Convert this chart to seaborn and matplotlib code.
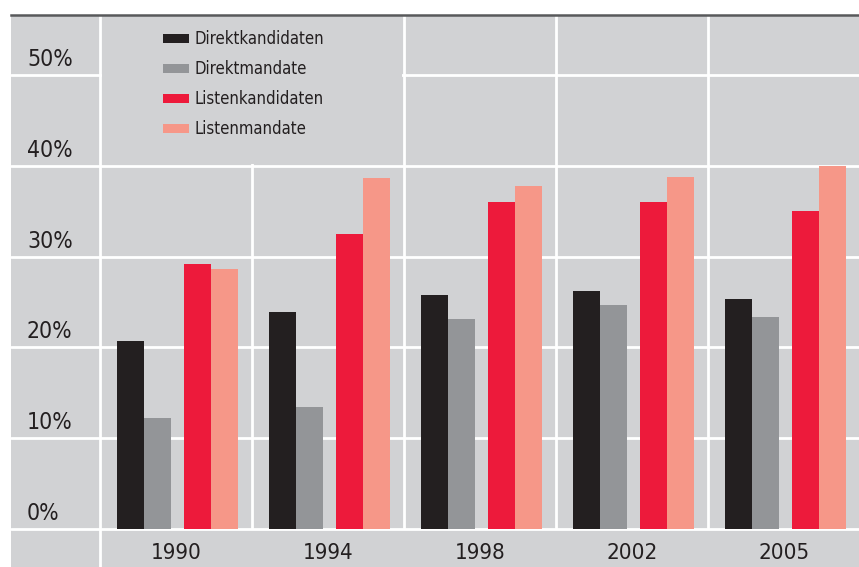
import matplotlib
matplotlib.use("Agg")
import numpy as np
import pandas as pd
import seaborn as sns
import matplotlib.pyplot as plt
from matplotlib.patches import Rectangle, Patch

# Data (percent)
years = ["1990", "1994", "1998", "2002", "2005"]
series = ["Direktkandidaten", "Direktmandate", "Listenkandidaten", "Listenmandate"]
direktkandidaten = [20.7, 23.9, 25.8, 26.2, 25.3]
direktmandate = [12.2, 13.4, 23.1, 24.7, 23.3]
listenkandidaten = [29.2, 32.5, 36.0, 36.0, 35.0]
listenmandate = [28.6, 38.7, 37.8, 38.8, 40.0]
yticks = [0, 10, 20, 30, 40, 50]

values = [direktkandidaten, direktmandate, listenkandidaten, listenmandate]
colors = ["#231F20", "#939598", "#ED1A3B", "#F69788"]
offsets = [-0.301, -0.124, 0.143, 0.320]
bar_w = 0.177

bg = "#D1D2D4"
txt = "#231F20"

sns.set_style("white")
plt.rcParams["font.family"] = ["DejaVu Sans"]
plt.rcParams["font.stretch"] = "condensed"

W, H = 859, 567
fig = plt.figure(figsize=(W / 100, H / 100), dpi=100)
fig.patch.set_facecolor("white")
fig.patches.append(Rectangle((11 / W, 0), 848 / W, 552 / H, transform=fig.transFigure,
                             facecolor=bg, edgecolor="none", zorder=-10))

ax = fig.add_axes([11 / W, 38 / H, 848 / W, 514 / H])
ax.set_facecolor(bg)

for name, vals, col, off in zip(series, values, colors, offsets):
    df = pd.DataFrame({"x": np.arange(len(years)) + off, "y": vals})
    sns.barplot(data=df, x="x", y="y", native_scale=True, width=bar_w,
                color=col, saturation=1, ax=ax, zorder=2, errorbar=None,
                linewidth=0, edgecolor="none")

ax.set_xlim(-0.5 - 89 / 152, -0.5 + 759 / 152)
ax.set_ylim(0, 514 / 9.08)

# white grid
for v in yticks:
    ax.axhline(v, color="white", lw=2, zorder=0.5, clip_on=(v != 0))
for k in range(len(years) - 1):
    ax.axvline(k + 0.5, color="white", lw=2, zorder=0.5)
ax.axvline(-0.5, ymin=-38 / 514, ymax=1, color="white", lw=2, zorder=0.5, clip_on=False)

# legend area hides grid
ax.add_patch(Rectangle((-0.488, 40.25), 1.976, 20, facecolor=bg, edgecolor="none", zorder=1.5))

# y labels above gridlines
for v in yticks:
    ax.text(16 / 848, v + 1.0, f"{v}%", transform=ax.get_yaxis_transform(),
            ha="left", va="baseline", fontsize=16.5, color=txt)
ax.set_yticks([])
ax.set_ylabel("")
ax.set_xlabel("")

ax.set_xticks(range(len(years)))
ax.set_xticklabels(years, fontsize=16, color=txt)
ax.tick_params(axis="x", length=0, pad=10)

for s in ["left", "right", "bottom"]:
    ax.spines[s].set_visible(False)
ax.spines["top"].set_color("#58595B")
ax.spines["top"].set_linewidth(1.8)

handles = [Patch(facecolor=c, edgecolor="none") for c in colors]
leg = ax.legend(handles, series, loc="upper left", bbox_to_anchor=(163 / W, 1 - 30 / H),
                bbox_transform=fig.transFigure, frameon=False, fontsize=12,
                handlelength=1.55, handleheight=0.45, handletextpad=0.35,
                labelspacing=0.72, borderpad=0, borderaxespad=0)
for t in leg.get_texts():
    t.set_color(txt)

fig.savefig("out.png", dpi=100, facecolor="white")
